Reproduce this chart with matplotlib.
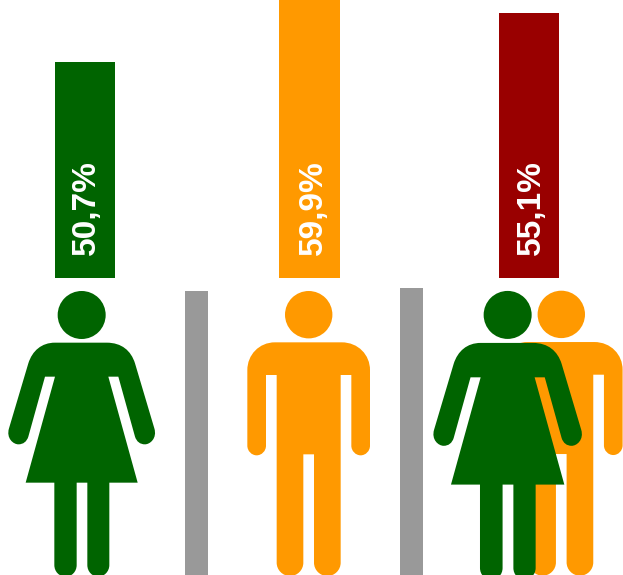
import matplotlib
matplotlib.use("Agg")
import matplotlib.pyplot as plt
from matplotlib.path import Path
from matplotlib.patches import PathPatch, Circle, Rectangle

W, H = 623, 575
categories = ["Women", "Men", "Total"]
values = [50.7, 59.9, 55.1]
labels = ["50,7%", "59,9%", "55,1%"]
bar_colors = ["#006400", "#FF9900", "#990000"]
GREEN, ORANGE, GRAY = "#006400", "#FF9900", "#999999"
bar_x = [85.2, 309.3, 528.8]
bar_w = [60.5, 60.5, 59.5]
label_x = [86.8, 313.8, 531.8]
BASE = 31.54
PX_PER_UNIT = 11.25
BASE_PX = 278

fig = plt.figure(figsize=(W / 100, H / 100), dpi=100)
ax = fig.add_axes([0, 0, 1, 1])
ax.set_xlim(0, W)
ax.set_ylim(H, 0)
ax.axis("off")

axb = fig.add_axes([0, 0, 1, 1], sharex=ax)
axb.patch.set_alpha(0)
axb.set_ylim(BASE - (H - BASE_PX) / PX_PER_UNIT, BASE + BASE_PX / PX_PER_UNIT)
axb.axis("off")
axb.bar(bar_x, [v - BASE for v in values], bottom=BASE, width=bar_w, color=bar_colors, linewidth=0)


def path_from(ops, sx, sy, k=1 / 3):
    verts, codes = [], []
    for op in ops:
        c, pts = op[0], op[1:]
        pts = [(sx + x * k, sy + y * k) for x, y in pts]
        verts += pts
        codes += {"M": [Path.MOVETO], "L": [Path.LINETO], "C": [Path.CURVE4] * 3}[c]
    verts.append(verts[0])
    codes.append(Path.CLOSEPOLY)
    return Path(verts, codes)


def woman(dx=0, dy=0, color=GREEN, k=1 / 3):
    ops = [
        ("M", (165, 188)), ("L", (320, 188)),
        ("C", (365, 188), (393, 212), (405, 250)),
        ("L", (463, 445)),
        ("C", (472, 475), (450, 493), (435, 493)),
        ("C", (420, 493), (410, 485), (405, 470)),
        ("L", (355, 290)), ("L", (325, 290)), ("L", (413, 608)), ("L", (328, 608)),
        ("L", (328, 855)),
        ("C", (328, 875), (312, 890), (295, 890)),
        ("C", (277, 890), (262, 875), (262, 855)),
        ("L", (262, 608)), ("L", (230, 608)),
        ("L", (230, 855)),
        ("C", (230, 875), (215, 890), (197, 890)),
        ("C", (178, 890), (163, 875), (163, 855)),
        ("L", (163, 608)), ("L", (77, 608)), ("L", (165, 290)), ("L", (135, 290)),
        ("L", (85, 470)),
        ("C", (80, 485), (70, 493), (55, 493)),
        ("C", (40, 493), (18, 475), (27, 445)),
        ("L", (85, 250)),
        ("C", (97, 212), (125, 188), (165, 188)),
    ]
    ax.add_patch(PathPatch(path_from(ops, dx, 280 + dy, k), fc=color, ec="none"))
    ax.add_patch(Circle((dx + 245 * k, 280 + dy + 105 * k), 24, fc=color, ec="none"))


def man(dx=0, dy=0, color=ORANGE):
    ops = [
        ("M", (135, 187)), ("L", (335, 187)),
        ("C", (385, 187), (420, 225), (420, 270)),
        ("L", (420, 497)),
        ("C", (420, 513), (407, 526), (392, 526)),
        ("C", (377, 526), (364, 513), (364, 497)),
        ("L", (364, 285)), ("L", (332, 285)),
        ("L", (332, 848)),
        ("C", (332, 870), (314, 888), (292, 888)),
        ("C", (270, 888), (252, 870), (252, 848)),
        ("L", (252, 523)), ("L", (220, 523)),
        ("L", (220, 848)),
        ("C", (220, 870), (202, 888), (180, 888)),
        ("C", (158, 888), (140, 870), (140, 848)),
        ("L", (140, 285)), ("L", (108, 285)),
        ("L", (108, 497)),
        ("C", (108, 513), (95, 526), (80, 526)),
        ("C", (65, 526), (52, 513), (52, 497)),
        ("L", (52, 270)),
        ("C", (52, 225), (87, 187), (135, 187)),
    ]
    ax.add_patch(PathPatch(path_from(ops, 230 + dx, 280 + dy), fc=color, ec="none"))
    ax.add_patch(Circle((308.7 + dx, 314.7 + dy), 23.7, fc=color, ec="none"))


ax.add_patch(Rectangle((185, 291), 23, 284, fc=GRAY, ec="none"))
ax.add_patch(Rectangle((400, 288), 23, 287, fc=GRAY, ec="none"))

woman()
man()
man(dx=252.6, dy=-0.3)
woman(dx=425, dy=-0.5, k=1.012 / 3)

ax.set_zorder(1)
axb.set_zorder(2)
for x, lab in zip(label_x, labels):
    axb.text(x, BASE + (BASE_PX - 255) / PX_PER_UNIT, lab, rotation=90, ha="center", va="bottom",
             color="white", fontsize=24, fontweight="bold", family="Liberation Sans")

fig.savefig("out.png", dpi=100)
